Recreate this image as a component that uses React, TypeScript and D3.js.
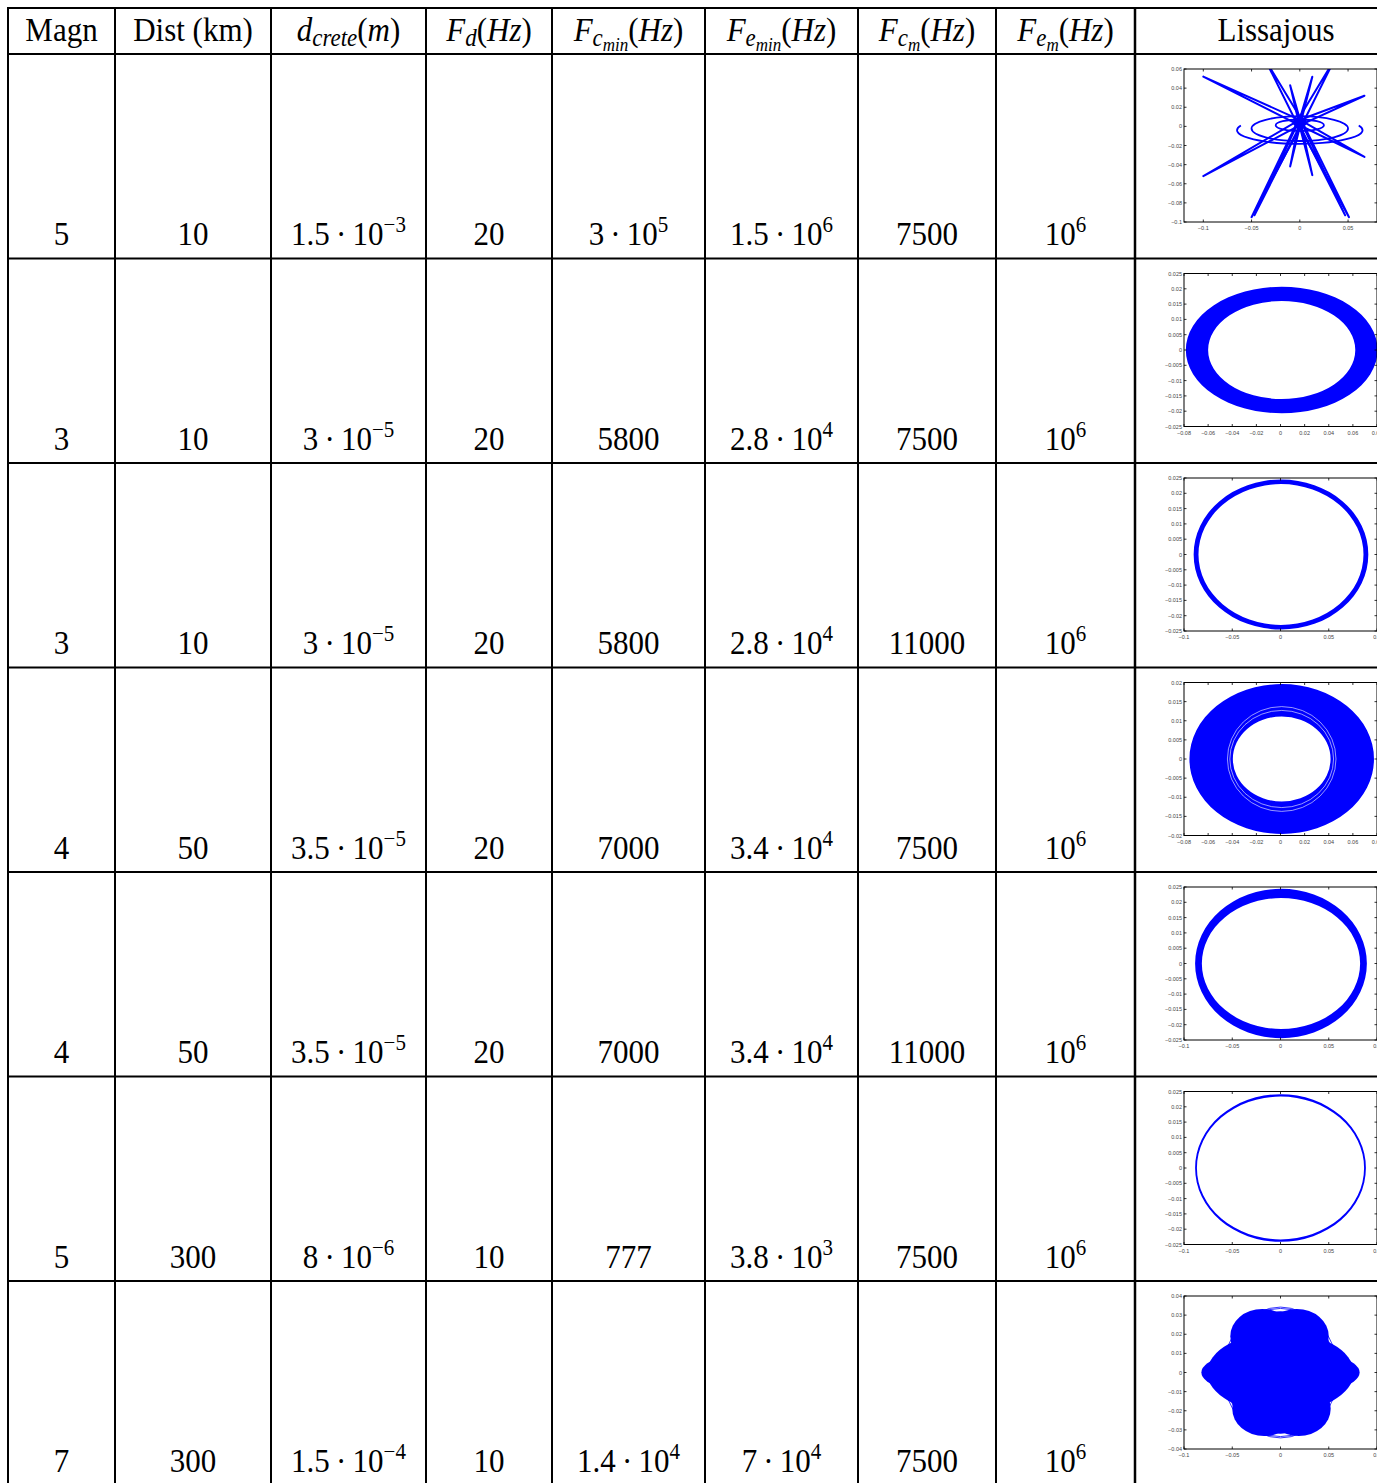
import React from "react";
import * as d3 from "d3";

// ---------- table data ----------
const magn = ["5", "3", "3", "4", "4", "5", "7"];
const distKm = ["10", "10", "10", "50", "50", "300", "300"];
const dCrete = ["1.5e-3", "3e-5", "3e-5", "3.5e-5", "3.5e-5", "8e-6", "1.5e-4"];
const fd = ["20", "20", "20", "20", "20", "10", "10"];
const fcMin = ["3e5", "5800", "5800", "7000", "7000", "777", "1.4e4"];
const feMin = ["1.5e6", "2.8e4", "2.8e4", "3.4e4", "3.4e4", "3.8e3", "7e4"];
const fcm = ["7500", "7500", "11000", "7500", "11000", "7500", "7500"];
const fem = ["1e6", "1e6", "1e6", "1e6", "1e6", "1e6", "1e6"];

// ---------- Lissajous panels ----------
const xDomains = [
  [-0.12, 0.08], [-0.08, 0.08], [-0.1, 0.1], [-0.08, 0.08], [-0.1, 0.1], [-0.1, 0.1], [-0.1, 0.1],
];
const yDomains = [
  [-0.1, 0.06], [-0.025, 0.025], [-0.025, 0.025], [-0.02, 0.02], [-0.025, 0.025], [-0.025, 0.025], [-0.04, 0.04],
];
const xTicksA = [-0.1, -0.05, 0, 0.05];
const xTicksB = [-0.08, -0.06, -0.04, -0.02, 0, 0.02, 0.04, 0.06, 0.08];
const xTicksC = [-0.1, -0.05, 0, 0.05, 0.1];
const xTicks = [xTicksA, xTicksB, xTicksC, xTicksB, xTicksC, xTicksC, xTicksC];
const yTicksA = [-0.1, -0.08, -0.06, -0.04, -0.02, 0, 0.02, 0.04, 0.06];
const yTicksB = [-0.025, -0.02, -0.015, -0.01, -0.005, 0, 0.005, 0.01, 0.015, 0.02, 0.025];
const yTicksD = [-0.02, -0.015, -0.01, -0.005, 0, 0.005, 0.01, 0.015, 0.02];
const yTicksG = [-0.04, -0.03, -0.02, -0.01, 0, 0.01, 0.02, 0.03, 0.04];
const yTicks = [yTicksA, yTicksB, yTicksB, yTicksD, yTicksB, yTicksB, yTicksG];

// rings (panel index -> ring)
const ringPanels = [1, 2, 3, 4, 5];
const ringCx = [0.001, 0.0005, 0.001, 0.0005, 0.0];
const ringOuterRx = [0.0795, 0.0905, 0.0765, 0.089, 0.0885];
const ringOuterRy = [0.0207, 0.0245, 0.0196, 0.0244, 0.0241];
const ringInnerRx = [0.061, 0.0855, 0.0405, 0.082, 0.0866];
const ringInnerRy = [0.016, 0.023, 0.0111, 0.0214, 0.0233];
// thin white gaps inside panel 4's ring
const gapRx = [0.045, 0.043];
const gapRy = [0.0137, 0.0127];

// panel 1 star: spike tips (x, y) and lens half-width in px
const spikeCenter = [0, 0.004];
const spikeX = [-0.1, -0.1, 0.067, 0.067, -0.036, 0.036, -0.01, 0.013, -0.05, 0.051, -0.01, 0.013, -0.047, 0.047];
const spikeY = [0.052, -0.052, 0.032, -0.032, 0.07, 0.07, 0.043, 0.052, -0.095, -0.095, -0.042, -0.051, -0.093, -0.093];
const spikeW = [2.5, 2.5, 2.5, 2.5, 3, 3, 1, 1, 2.5, 2.5, 1, 1, 1.5, 1.5];
// panel 1 loops
const loopCy = [0.0012, -0.0023, -0.004];
const loopRx = [0.025, 0.05, 0.065];
const loopRy = [0.006, 0.013, 0.0142];
const loopFull = [1, 1, 0];

// panel 7 blob: union of ellipses
const blobCx = [0, 0, 0, -0.019, 0.017, -0.017, 0.019];
const blobCy = [0, 0, 0, 0.019, 0.019, -0.019, -0.019];
const blobRx = [0.082, 0.076, 0.058, 0.033, 0.033, 0.033, 0.033];
const blobRy = [0.0125, 0.021, 0.032, 0.0142, 0.0142, 0.0142, 0.0142];
// faint loop outlines around the blob
const blobLoopRx = [0.06, 0.057];
const blobLoopRy = [0.0335, 0.0342];

// ---------- layout ----------
const colX = [8, 115, 271, 426, 552, 705, 858, 996, 1135, 1417];
const tableTop = 8;
const headerBottom = 54;
const rowH = 204.5;
const nRows = 7;
const BLUE = "#0000ff";
const SERIF = "'Liberation Serif', 'Times New Roman', serif";
const FS = 31;
const SUP = 21;
const VSCALE = 1.08;

type Part = { t: string; it?: boolean; size?: number; dy?: number };

function sci(s: string): Part[] {
  if (!s.includes("e")) return [{ t: s }];
  const [m, e] = s.split("e");
  const exp = e.replace("-", "\u2212");
  const parts: Part[] = [];
  parts.push({ t: m === "1" ? "10" : `${m}\u2009\u00b7\u200910` });
  parts.push({ t: exp, size: SUP, dy: -12 });
  return parts;
}

function MText({ x, y, parts }: { x: number; y: number; parts: Part[] }) {
  return (
    <g transform={`translate(${x},${y}) scale(1,${VSCALE})`}>
      <text x={0} y={0} textAnchor="middle" fontFamily={SERIF} fontSize={FS} fill="#000" style={{ whiteSpace: "pre" }}>
        {parts.map((p, i) => (
          <tspan key={i} fontStyle={p.it ? "italic" : "normal"} fontSize={p.size ?? FS} dy={p.dy ?? 0}>
            {p.t}
          </tspan>
        ))}
      </text>
    </g>
  );
}

const hz = (d: number): Part[] => [
  { t: "(", dy: d },
  { t: "Hz", it: true },
  { t: ")" },
];

const headers: Part[][] = [
  [{ t: "Magn" }],
  [{ t: "Dist (km)" }],
  [{ t: "d", it: true }, { t: "crete", it: true, size: 23, dy: 5 }, { t: "(", dy: -5 }, { t: "m", it: true }, { t: ")" }],
  [{ t: "F", it: true }, { t: "d", it: true, size: 23, dy: 5 }, ...hz(-5)],
  [{ t: "F", it: true }, { t: "c", it: true, size: 23, dy: 5 }, { t: "min", it: true, size: 17, dy: 4 }, ...hz(-9)],
  [{ t: "F", it: true }, { t: "e", it: true, size: 23, dy: 5 }, { t: "min", it: true, size: 17, dy: 4 }, ...hz(-9)],
  [{ t: "F", it: true }, { t: "c", it: true, size: 23, dy: 5 }, { t: "m", it: true, size: 17, dy: 4 }, ...hz(-9)],
  [{ t: "F", it: true }, { t: "e", it: true, size: 23, dy: 5 }, { t: "m", it: true, size: 17, dy: 4 }, ...hz(-9)],
  [{ t: "Lissajous" }],
];

const fmtTick = (v: number) => {
  const s = String(+v.toFixed(4));
  return s.replace("-", "\u2212");
};

function ellipsePath(cx: number, cy: number, rx: number, ry: number) {
  return `M${cx - rx},${cy}A${rx},${ry} 0 1 0 ${cx + rx},${cy}A${rx},${ry} 0 1 0 ${cx - rx},${cy}Z`;
}

function Panel({ i, top }: { i: number; top: number }) {
  const L = 1184;
  const R = 1377;
  const T = top + 15;
  const B = top + 168;
  const x = d3.scaleLinear().domain(xDomains[i]).range([L, R]);
  const y = d3.scaleLinear().domain(yDomains[i]).range([B, T]);
  const sx = (v: number) => Math.abs(x(v) - x(0));
  const sy = (v: number) => Math.abs(y(v) - y(0));
  const clipId = `clip${i}`;
  const content: React.ReactNode[] = [];

  const ri = ringPanels.indexOf(i);
  if (ri >= 0) {
    const cx = x(ringCx[ri]);
    const cy = y(0);
    const d =
      ellipsePath(cx, cy, sx(ringOuterRx[ri]), sy(ringOuterRy[ri])) +
      ellipsePath(cx, cy, sx(ringInnerRx[ri]), sy(ringInnerRy[ri]));
    content.push(<path key="ring" d={d} fill={BLUE} fillRule="evenodd" />);
    if (i === 3) {
      gapRx.forEach((g, k) =>
        content.push(
          <ellipse key={`g${k}`} cx={cx} cy={cy} rx={sx(g)} ry={sy(gapRy[k])} fill="none" stroke="#fff" strokeWidth={0.7} strokeOpacity={0.85} />
        )
      );
    }
  }
  if (i === 0) {
    const c0x = x(spikeCenter[0]);
    const c0y = y(spikeCenter[1]);
    loopCy.forEach((cyv, k) => {
      const cx = x(0);
      const cy = y(cyv);
      const rx = sx(loopRx[k]);
      const ry = sy(loopRy[k]);
      if (loopFull[k]) {
        content.push(<ellipse key={`l${k}`} cx={cx} cy={cy} rx={rx} ry={ry} fill="none" stroke={BLUE} strokeWidth={1.8} />);
      } else {
        const a0 = -0.35;
        const p1 = [cx - rx * Math.cos(a0), cy + ry * Math.sin(a0)];
        const p2 = [cx + rx * Math.cos(a0), cy + ry * Math.sin(a0)];
        content.push(
          <path key={`l${k}`} d={`M${p1[0]},${p1[1]}A${rx},${ry} 0 1 0 ${p2[0]},${p2[1]}`} fill="none" stroke={BLUE} strokeWidth={1.8} />
        );
      }
    });
    spikeX.forEach((tx, k) => {
      const px = x(tx);
      const py = y(spikeY[k]);
      const dx = px - c0x;
      const dy = py - c0y;
      const len = Math.hypot(dx, dy);
      const nx = (-dy / len) * spikeW[k];
      const ny = (dx / len) * spikeW[k];
      const d = `M${c0x + nx},${c0y + ny}L${px},${py}L${c0x - nx},${c0y - ny}`;
      content.push(<path key={`s${k}`} d={d} fill="none" stroke={BLUE} strokeWidth={2} strokeLinejoin="round" />);
    });
    content.push(<ellipse key="core" cx={c0x} cy={c0y} rx={7} ry={5} fill={BLUE} />);
  }
  if (i === 6) {
    blobCx.forEach((bx, k) =>
      content.push(
        <ellipse key={`b${k}`} cx={x(bx)} cy={y(blobCy[k])} rx={sx(blobRx[k])} ry={sy(blobRy[k])} fill={BLUE} />
      )
    );
    blobLoopRx.forEach((r, k) =>
      content.push(
        <ellipse key={`bl${k}`} cx={x(0)} cy={y(0)} rx={sx(r)} ry={sy(blobLoopRy[k])} fill="none" stroke={BLUE} strokeWidth={0.8} />
      )
    );
  }

  return (
    <g>
      <defs>
        <clipPath id={clipId}>
          <rect x={L} y={T} width={R - L} height={B - T} />
        </clipPath>
      </defs>
      <rect x={L} y={T} width={R - L} height={B - T} fill="#fff" />
      <g clipPath={`url(#${clipId})`}>{content}</g>
      <rect x={L} y={T} width={R - L} height={B - T} fill="none" stroke="#000" strokeWidth={1} />
      {yTicks[i].map((v) => (
        <g key={`y${v}`}>
          <line x1={L} x2={L + 2.5} y1={y(v)} y2={y(v)} stroke="#000" strokeWidth={0.8} />
          <line x1={R - 2.5} x2={R} y1={y(v)} y2={y(v)} stroke="#000" strokeWidth={0.8} />
          <text x={L - 2} y={y(v) + 2} textAnchor="end" fontFamily="'Liberation Sans', Arial, sans-serif" fontSize={5.5} fill="#444">
            {fmtTick(v)}
          </text>
        </g>
      ))}
      {xTicks[i].map((v) => (
        <g key={`x${v}`}>
          <line x1={x(v)} x2={x(v)} y1={B} y2={B - 2.5} stroke="#000" strokeWidth={0.8} />
          <line x1={x(v)} x2={x(v)} y1={T} y2={T + 2.5} stroke="#000" strokeWidth={0.8} />
          <text x={x(v)} y={B + 8} textAnchor="middle" fontFamily="'Liberation Sans', Arial, sans-serif" fontSize={5.5} fill="#444">
            {fmtTick(v)}
          </text>
        </g>
      ))}
    </g>
  );
}

export default function App() {
  const W = 1377;
  const H = 1483;
  const rowTops = d3.range(nRows).map((r) => headerBottom + r * rowH);
  const cols = [magn, distKm, dCrete, fd, fcMin, feMin, fcm, fem];
  const centers = colX.slice(0, -1).map((c, k) => (c + colX[k + 1]) / 2);
  centers[8] = 1276;

  return (
    <svg width={W} height={H} style={{ position: "absolute", left: 0, top: 0, background: "#fff" }}>
      <rect x={0} y={0} width={W} height={H} fill="#fff" />
      {headers.map((h, k) => (
        <MText key={`h${k}`} x={centers[k]} y={41} parts={h} />
      ))}
      {rowTops.map((rt, r) => (
        <g key={`r${r}`}>
          {cols.map((col, k) => (
            <MText key={`c${k}`} x={centers[k]} y={rt + 191} parts={sci(col[r])} />
          ))}
          <Panel i={r} top={rt} />
        </g>
      ))}
      {colX.slice(0, -1).map((cx, k) => (
        <line key={`v${k}`} x1={cx} x2={cx} y1={tableTop} y2={H} stroke="#000" strokeWidth={k === 8 ? 2.5 : 2} />
      ))}
      {[tableTop, headerBottom, ...rowTops.slice(1)].map((yy, k) => (
        <line key={`hl${k}`} x1={colX[0] - 1} x2={W} y1={yy} y2={yy} stroke="#000" strokeWidth={2} />
      ))}
    </svg>
  );
}
